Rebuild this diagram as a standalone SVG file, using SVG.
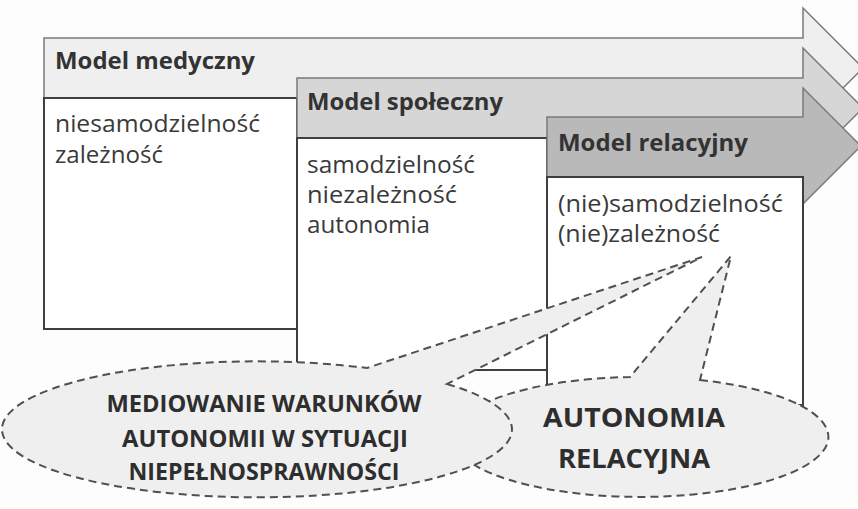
<svg xmlns="http://www.w3.org/2000/svg" width="858" height="509" viewBox="0 0 858 509">
<defs>
<style>
.hdr{stroke:#7a7a7a;stroke-width:1.5;stroke-linejoin:miter}
.box{fill:#ffffff;stroke:#3f3f3f;stroke-width:2}
.ht{font-family:"Open Sans","Liberation Sans",sans-serif;font-weight:bold;font-size:23px;fill:#333333}
.bt{font-family:"Open Sans","Liberation Sans",sans-serif;font-size:24px;fill:#3a3a3a}
.call{fill:#efefef;stroke:#505050;stroke-width:2;stroke-dasharray:8 5;stroke-linejoin:miter}
.ct{font-family:"Open Sans","Liberation Sans",sans-serif;font-weight:bold;font-size:23px;fill:#2e2e2e;text-anchor:middle}
.ct2{font-family:"Open Sans","Liberation Sans",sans-serif;font-weight:bold;font-size:27px;fill:#2e2e2e;text-anchor:middle}
</style>
</defs>
<rect x="0" y="0" width="858" height="509" fill="#fdfdfd"/>
<g id="model-medyczny">
<polygon class="hdr" fill="#efefef" points="44,38 803,38 803,8 863,68 803,128 803,98 44,98"/>
<rect class="box" x="44" y="98" width="253" height="231"/>
<text class="ht" x="55" y="69" textLength="200" lengthAdjust="spacingAndGlyphs">Model medyczny</text>
<text class="bt" x="55" y="132" textLength="205" lengthAdjust="spacingAndGlyphs">niesamodzielność</text>
<text class="bt" x="55" y="163" textLength="108" lengthAdjust="spacingAndGlyphs">zależność</text>
</g>
<g id="model-spoleczny">
<polygon class="hdr" fill="#d6d6d6" points="297,78 803,78 803,48 863,108 803,168 803,138 297,138"/>
<rect class="box" x="297" y="138" width="250" height="232"/>
<text class="ht" x="307" y="110" textLength="196" lengthAdjust="spacingAndGlyphs">Model społeczny</text>
<text class="bt" x="307" y="173" textLength="168" lengthAdjust="spacingAndGlyphs">samodzielność</text>
<text class="bt" x="307" y="203" textLength="150" lengthAdjust="spacingAndGlyphs">niezależność</text>
<text class="bt" x="307" y="233" textLength="123" lengthAdjust="spacingAndGlyphs">autonomia</text>
</g>
<g id="model-relacyjny">
<polygon class="hdr" fill="#b9b9b9" points="547,117 803,117 803,88 861,146 803,204 803,177 547,177"/>
<rect class="box" x="547" y="177" width="256" height="228"/>
<text class="ht" x="558" y="151" textLength="190" lengthAdjust="spacingAndGlyphs">Model relacyjny</text>
<text class="bt" x="558" y="212" textLength="225" lengthAdjust="spacingAndGlyphs">(nie)samodzielność</text>
<text class="bt" x="558" y="242" textLength="162" lengthAdjust="spacingAndGlyphs">(nie)zależność</text>
</g>
<g id="connectors"></g>
<g id="autonomia-relacyjna">
<path class="call" d="M 700 380 A 188 60 0 1 1 630 377 L 731 256 Z"/>
<text class="ct2" x="634" y="427" textLength="182" lengthAdjust="spacingAndGlyphs">AUTONOMIA</text>
<text class="ct2" x="634" y="468" textLength="152" lengthAdjust="spacingAndGlyphs">RELACYJNA</text>
</g>
<g id="mediowanie">
<path class="call" d="M 447 384 A 255 68 0 1 1 367 368 L 702 257 Z"/>
<text class="ct" x="264" y="412" textLength="315" lengthAdjust="spacingAndGlyphs">MEDIOWANIE WARUNKÓW</text>
<text class="ct" x="265" y="447" textLength="286" lengthAdjust="spacingAndGlyphs">AUTONOMII W SYTUACJI</text>
<text class="ct" x="264" y="480" textLength="271" lengthAdjust="spacingAndGlyphs">NIEPEŁNOSPRAWNOŚCI</text>
</g>
</svg>
